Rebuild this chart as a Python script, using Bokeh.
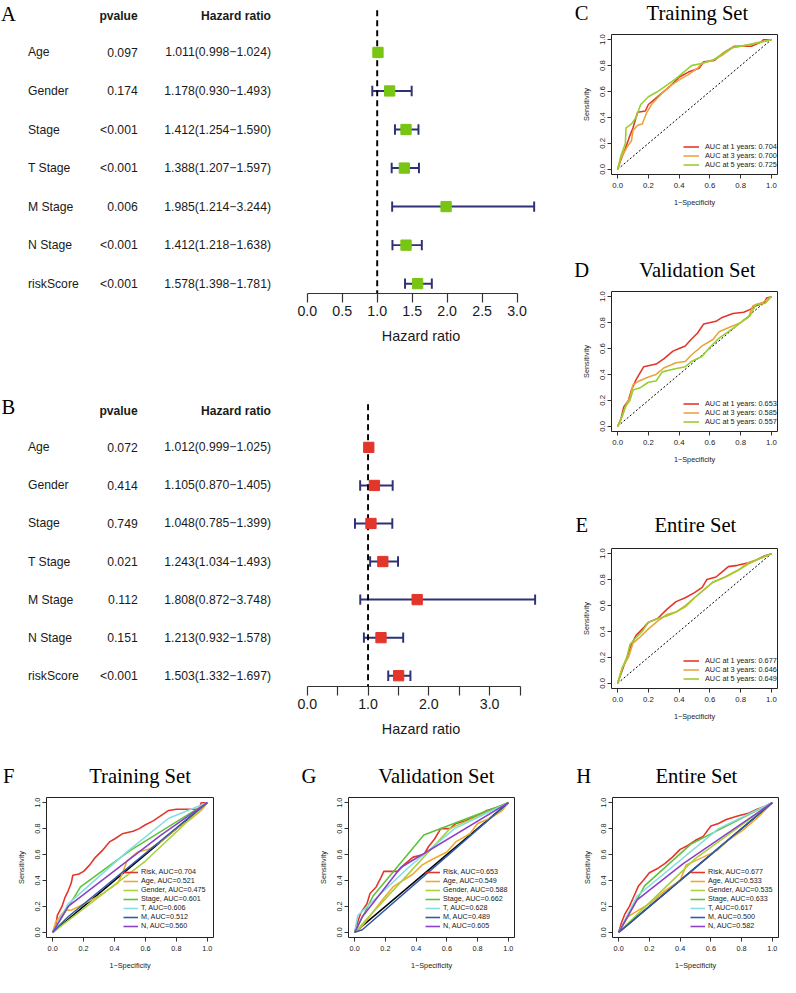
from bokeh.plotting import figure
from bokeh.models import (Range1d, FixedTicker, PrintfTickFormatter, Legend,
                          LegendItem, ColumnDataSource, Div)
from bokeh.layouts import row, column
from bokeh.embed import file_html
from bokeh.resources import INLINE
from bokeh.core.properties import value

S = 0.98


def z(v):
    return int(round(v * S))


def fs(v):
    return f"{v * S:.1f}px"


SANS = "Liberation Sans"
SERIF = "Liberation Serif"

# ---------------- data: Cox regression tables ----------------
variables = ["Age", "Gender", "Stage", "T Stage", "M Stage", "N Stage", "riskScore"]

uni_p = ["0.097", "0.174", "<0.001", "<0.001", "0.006", "<0.001", "<0.001"]
uni_hr = [1.011, 1.178, 1.412, 1.388, 1.985, 1.412, 1.578]
uni_lo = [0.998, 0.930, 1.254, 1.207, 1.214, 1.218, 1.398]
uni_hi = [1.024, 1.493, 1.590, 1.597, 3.244, 1.638, 1.781]

multi_p = ["0.072", "0.414", "0.749", "0.021", "0.112", "0.151", "<0.001"]
multi_hr = [1.012, 1.105, 1.048, 1.243, 1.808, 1.213, 1.503]
multi_lo = [0.999, 0.870, 0.785, 1.034, 0.872, 0.932, 1.332]
multi_hi = [1.025, 1.405, 1.399, 1.493, 3.748, 1.578, 1.697]

uni_ticks = [0.0, 0.5, 1.0, 1.5, 2.0, 2.5, 3.0]
multi_ticks = [0.0, 0.5, 1.0, 1.5, 2.0, 2.5, 3.0, 3.5]
multi_tick_labels = {0.5: "", 1.5: "", 2.5: "", 3.5: ""}

# ---------------- data: time-dependent ROC (C, D, E) ----------------
C_fpr_1 = [0, 0.02, 0.05, 0.08, 0.10, 0.13, 0.18, 0.20, 0.24, 0.28, 0.34, 0.40, 0.46, 0.53, 0.56, 0.63, 0.69, 0.76, 0.87, 0.93, 0.95, 1.0]
C_tpr_1 = [0, 0.07, 0.16, 0.26, 0.32, 0.44, 0.45, 0.50, 0.54, 0.58, 0.64, 0.71, 0.75, 0.78, 0.83, 0.84, 0.90, 0.95, 0.95, 0.98, 1.0, 1.0]
C_fpr_3 = [0, 0.02, 0.06, 0.09, 0.10, 0.13, 0.16, 0.19, 0.22, 0.26, 0.30, 0.35, 0.40, 0.46, 0.52, 0.55, 0.62, 0.68, 0.75, 0.85, 0.92, 1.0]
C_tpr_3 = [0, 0.08, 0.17, 0.22, 0.30, 0.34, 0.35, 0.44, 0.50, 0.55, 0.60, 0.65, 0.69, 0.73, 0.78, 0.82, 0.84, 0.88, 0.94, 0.96, 0.98, 1.0]
C_fpr_5 = [0, 0.02, 0.05, 0.055, 0.09, 0.12, 0.15, 0.20, 0.26, 0.32, 0.38, 0.44, 0.48, 0.56, 0.63, 0.68, 0.75, 0.85, 0.93, 1.0]
C_tpr_5 = [0, 0.10, 0.20, 0.32, 0.35, 0.40, 0.50, 0.56, 0.60, 0.65, 0.70, 0.76, 0.80, 0.82, 0.85, 0.89, 0.94, 0.96, 0.98, 1.0]
C_auc = ["0.704", "0.700", "0.725"]

D_fpr_1 = [0, 0.02, 0.04, 0.07, 0.09, 0.12, 0.17, 0.25, 0.30, 0.36, 0.40, 0.44, 0.47, 0.52, 0.56, 0.64, 0.68, 0.75, 0.82, 0.86, 0.90, 0.95, 0.97, 1.0]
D_tpr_1 = [0, 0.05, 0.15, 0.20, 0.28, 0.36, 0.46, 0.48, 0.52, 0.58, 0.60, 0.62, 0.66, 0.72, 0.79, 0.81, 0.84, 0.87, 0.88, 0.90, 0.93, 0.95, 0.99, 1.0]
D_fpr_3 = [0, 0.03, 0.06, 0.08, 0.10, 0.14, 0.20, 0.25, 0.30, 0.38, 0.44, 0.48, 0.55, 0.62, 0.66, 0.72, 0.80, 0.85, 0.88, 0.95, 1.0]
D_tpr_3 = [0, 0.08, 0.18, 0.22, 0.32, 0.35, 0.38, 0.40, 0.45, 0.49, 0.50, 0.55, 0.62, 0.67, 0.73, 0.76, 0.80, 0.84, 0.93, 0.96, 1.0]
D_fpr_5 = [0, 0.03, 0.05, 0.08, 0.10, 0.15, 0.20, 0.25, 0.29, 0.36, 0.44, 0.48, 0.55, 0.60, 0.66, 0.72, 0.78, 0.82, 0.86, 0.90, 0.96, 1.0]
D_tpr_5 = [0, 0.08, 0.15, 0.20, 0.28, 0.30, 0.34, 0.35, 0.42, 0.44, 0.46, 0.50, 0.54, 0.61, 0.68, 0.73, 0.78, 0.82, 0.85, 0.94, 0.95, 1.0]
D_auc = ["0.653", "0.585", "0.557"]

E_fpr_1 = [0, 0.03, 0.06, 0.09, 0.12, 0.17, 0.20, 0.26, 0.32, 0.38, 0.44, 0.50, 0.55, 0.58, 0.64, 0.68, 0.72, 0.78, 0.85, 0.90, 0.95, 1.0]
E_tpr_1 = [0, 0.10, 0.20, 0.30, 0.37, 0.43, 0.47, 0.50, 0.57, 0.63, 0.66, 0.70, 0.74, 0.80, 0.82, 0.86, 0.90, 0.91, 0.93, 0.95, 0.98, 1.0]
E_fpr_3 = [0, 0.03, 0.07, 0.10, 0.14, 0.20, 0.26, 0.32, 0.38, 0.44, 0.50, 0.56, 0.62, 0.70, 0.78, 0.85, 0.92, 1.0]
E_tpr_3 = [0, 0.12, 0.20, 0.31, 0.35, 0.42, 0.48, 0.53, 0.55, 0.60, 0.66, 0.72, 0.78, 0.82, 0.87, 0.93, 0.96, 1.0]
E_fpr_5 = [0, 0.03, 0.06, 0.08, 0.11, 0.16, 0.20, 0.26, 0.32, 0.38, 0.44, 0.50, 0.56, 0.62, 0.70, 0.78, 0.85, 0.92, 1.0]
E_tpr_5 = [0, 0.12, 0.20, 0.30, 0.34, 0.40, 0.47, 0.50, 0.52, 0.55, 0.59, 0.66, 0.72, 0.78, 0.82, 0.87, 0.92, 0.96, 1.0]
E_auc = ["0.677", "0.646", "0.649"]

# ---------------- data: multi-variable ROC (F, G, H) ----------------
roc_vars = ["Risk", "Age", "Gender", "Stage", "T", "M", "N"]

F_fpr = {
    "Risk": [0, 0.02, 0.03, 0.06, 0.08, 0.10, 0.12, 0.13, 0.17, 0.20, 0.24, 0.27, 0.32, 0.37, 0.40, 0.45, 0.52, 0.56, 0.60, 0.65, 0.70, 0.75, 0.80, 0.95, 0.96, 1.0],
    "Age": [0, 0.02, 0.08, 0.12, 0.17, 0.30, 0.42, 0.45, 0.48, 0.55, 0.62, 0.70, 0.80, 0.90, 0.96, 1.0],
    "Gender": [0, 0.60, 1.0],
    "Stage": [0, 0.18, 0.50, 1.0],
    "T": [0, 0.10, 0.48, 0.75, 1.0],
    "M": [0, 0.10, 1.0],
    "N": [0, 0.10, 0.70, 1.0],
}
F_tpr = {
    "Risk": [0, 0.05, 0.13, 0.20, 0.27, 0.32, 0.38, 0.44, 0.45, 0.47, 0.52, 0.57, 0.63, 0.70, 0.72, 0.76, 0.78, 0.80, 0.83, 0.86, 0.90, 0.94, 0.95, 0.95, 1.0, 1.0],
    "Age": [0, 0.08, 0.17, 0.17, 0.20, 0.28, 0.38, 0.45, 0.55, 0.62, 0.64, 0.70, 0.80, 0.88, 0.94, 1.0],
    "Gender": [0, 0.55, 1.0],
    "Stage": [0, 0.35, 0.63, 1.0],
    "T": [0, 0.22, 0.62, 0.88, 1.0],
    "M": [0, 0.12, 1.0],
    "N": [0, 0.20, 0.75, 1.0],
}
F_auc = ["0.704", "0.521", "0.475", "0.601", "0.606", "0.512", "0.560"]

G_fpr = {
    "Risk": [0, 0.02, 0.04, 0.08, 0.10, 0.14, 0.17, 0.19, 0.28, 0.32, 0.38, 0.45, 0.48, 0.52, 0.56, 0.62, 0.66, 0.72, 0.80, 0.86, 0.92, 0.96, 1.0],
    "Age": [0, 0.05, 0.18, 0.25, 0.38, 0.44, 0.50, 0.60, 0.66, 0.75, 0.80, 0.88, 0.96, 1.0],
    "Gender": [0, 0.62, 1.0],
    "Stage": [0, 0.12, 0.45, 1.0],
    "T": [0, 0.02, 0.35, 0.65, 1.0],
    "M": [0, 0.05, 1.0],
    "N": [0, 0.05, 0.30, 1.0],
}
G_tpr = {
    "Risk": [0, 0.08, 0.15, 0.22, 0.30, 0.35, 0.42, 0.47, 0.47, 0.52, 0.58, 0.60, 0.66, 0.72, 0.80, 0.80, 0.84, 0.86, 0.90, 0.94, 0.96, 0.98, 1.0],
    "Age": [0, 0.05, 0.25, 0.35, 0.45, 0.52, 0.56, 0.62, 0.70, 0.76, 0.84, 0.88, 0.94, 1.0],
    "Gender": [0, 0.80, 1.0],
    "Stage": [0, 0.28, 0.75, 1.0],
    "T": [0, 0.13, 0.50, 0.80, 1.0],
    "M": [0, 0.02, 1.0],
    "N": [0, 0.12, 0.50, 1.0],
}
G_auc = ["0.653", "0.549", "0.588", "0.662", "0.628", "0.489", "0.605"]

H_fpr = {
    "Risk": [0, 0.02, 0.04, 0.07, 0.10, 0.13, 0.16, 0.20, 0.25, 0.30, 0.35, 0.40, 0.45, 0.50, 0.55, 0.60, 0.65, 0.70, 0.78, 0.85, 0.90, 0.95, 1.0],
    "Age": [0, 0.06, 0.10, 0.20, 0.30, 0.40, 0.44, 0.55, 0.64, 0.70, 0.80, 0.90, 1.0],
    "Gender": [0, 0.50, 1.0],
    "Stage": [0, 0.17, 0.47, 1.0],
    "T": [0, 0.12, 0.65, 1.0],
    "M": [0, 1.0],
    "N": [0, 0.12, 0.42, 1.0],
}
H_tpr = {
    "Risk": [0, 0.08, 0.14, 0.20, 0.28, 0.36, 0.40, 0.46, 0.49, 0.53, 0.58, 0.64, 0.67, 0.71, 0.74, 0.82, 0.84, 0.87, 0.90, 0.92, 0.95, 0.97, 1.0],
    "Age": [0, 0.12, 0.15, 0.22, 0.32, 0.40, 0.52, 0.58, 0.63, 0.70, 0.78, 0.88, 1.0],
    "Gender": [0, 0.57, 1.0],
    "Stage": [0, 0.36, 0.68, 1.0],
    "T": [0, 0.28, 0.80, 1.0],
    "M": [0, 1.0],
    "N": [0, 0.25, 0.53, 1.0],
}
H_auc = ["0.677", "0.533", "0.535", "0.633", "0.617", "0.500", "0.582"]

# ---------------- styles ----------------
GREEN_SQ = "#78C514"
RED_SQ = "#E3352A"
NAVY = "#2E3175"
YEAR_COLORS = ["#E4352A", "#E8A43C", "#97CF2E"]
VAR_COLORS = ["#E4352A", "#F0A830", "#A8D23C", "#5EC23A", "#86DCE0", "#2F5BA8", "#8A40C8"]
TXT = "#1a1a1a"


def forest(letter, pvals, hr, lo, hi, sq_color, H, row0, row_h, axis_px, dash_top,
           zero_px, unit_px, ticks, overrides, hdr_px, letter_px):
    idx = list(range(len(variables)))
    y_bot = (axis_px - row0) / row_h
    y_top = -row0 / row_h
    yr = Range1d(y_bot, y_top)
    frame_h = z(axis_px)

    # ---- table part
    t = figure(width=z(300), height=H, x_range=Range1d(0, 300), y_range=yr,
               x_axis_type=None, y_axis_type=None, toolbar_location=None,
               output_backend="svg", title=None, min_border_left=0, min_border_right=0,
               min_border_top=0, min_border_bottom=H - frame_h, outline_line_color=None)
    t.grid.visible = False
    hr_txt = [f"{h:.3f}({a:.3f}\u2212{b:.3f})" for h, a, b in zip(hr, lo, hi)]
    t.text(x=[28] * 7, y=idx, text=variables, text_align="left", text_baseline="middle",
           text_font=value(SANS), text_font_size=fs(12.5), text_color=TXT)
    t.text(x=[140] * 7, y=idx, text=pvals, text_align="right", text_baseline="middle",
           text_font=value(SANS), text_font_size=fs(12.5), text_color=TXT)
    t.text(x=[276] * 7, y=idx, text=hr_txt, text_align="right", text_baseline="middle",
           text_font=value(SANS), text_font_size=fs(12.5), text_color=TXT)
    hy = (hdr_px - row0) / row_h
    t.text(x=[140, 276], y=[hy, hy], text=["pvalue", "Hazard ratio"], text_align="right",
           text_baseline="middle", text_font=value(SANS), text_font_size=fs(12.3),
           text_font_style="bold", text_color=TXT)
    ly = (letter_px - row0) / row_h
    t.text(x=[8], y=[ly], text=[letter], text_align="center", text_baseline="middle",
           text_font=value(SERIF), text_font_size=fs(21), text_color="black")

    # ---- forest part
    W = z(280)
    fw = z(258)
    f = figure(width=W, height=H,
               x_range=Range1d((300 - zero_px) / unit_px, (558 - zero_px) / unit_px),
               y_range=yr, y_axis_type=None, toolbar_location=None, output_backend="svg",
               title=None, min_border_left=0, min_border_right=W - fw, min_border_top=0,
               min_border_bottom=H - frame_h, outline_line_color=None)
    f.grid.visible = False
    cap = 5.3 / row_h
    src = ColumnDataSource(dict(y=idx, hr=hr, lo=lo, hi=hi,
                                ya=[i - cap for i in idx], yb=[i + cap for i in idx]))
    f.segment(x0="lo", y0="y", x1="hi", y1="y", source=src, line_color=NAVY, line_width=2 * S)
    f.segment(x0="lo", y0="ya", x1="lo", y1="yb", source=src, line_color=NAVY, line_width=2 * S)
    f.segment(x0="hi", y0="ya", x1="hi", y1="yb", source=src, line_color=NAVY, line_width=2 * S)
    f.segment(x0=[1.0], y0=[(dash_top - row0) / row_h], x1=[1.0], y1=[y_bot],
              line_color="black", line_width=2 * S, line_dash="6 4")
    f.scatter(x="hr", y="y", source=src, marker="square", size=10.5 * S,
              fill_color=sq_color, line_color=sq_color)
    ax = f.xaxis[0]
    ax.ticker = FixedTicker(ticks=ticks)
    ax.formatter = PrintfTickFormatter(format="%.1f")
    if overrides:
        ax.major_label_overrides = overrides
    ax.bounds = (ticks[0], ticks[-1])
    ax.axis_line_color = "#333333"
    ax.axis_line_width = 1.2
    ax.major_tick_line_color = "#333333"
    ax.major_tick_line_width = 1.2
    ax.major_tick_in = 0
    ax.major_tick_out = z(9)
    ax.minor_tick_line_color = None
    ax.major_label_text_font = SANS
    ax.major_label_text_font_size = fs(14.5)
    ax.major_label_text_color = TXT
    ax.major_label_standoff = z(3)
    ax.axis_label = "Hazard ratio"
    ax.axis_label_text_font = SANS
    ax.axis_label_text_font_style = "normal"
    ax.axis_label_text_font_size = fs(14.7)
    ax.axis_label_text_color = TXT
    ax.axis_label_standoff = z(9)
    return row(t, f)


HEAD = 26  # height of the header strip holding panel letter + title (reference px)


def header(letter, title, W, Hh, letter_xy, title_xy):
    span = ("position:absolute;left:{x:.1f}px;top:{y:.1f}px;transform:translate(-50%,-50%);"
            "white-space:nowrap;line-height:1;")
    html = (f'<div style="position:relative;width:{W}px;height:{Hh}px;'
            f"font-family:'Liberation Serif',serif;font-size:{21 * S:.1f}px;color:black;\">"
            f'<span style="{span.format(x=letter_xy[0] * S, y=letter_xy[1] * S)}">{letter}</span>'
            f'<span style="{span.format(x=title_xy[0] * S, y=title_xy[1] * S)}">{title}</span>'
            "</div>")
    return Div(text=html, width=W, height=Hh, margin=0)


def roc(letter, title, fprs, tprs, colors, labels, W, H, box, letter_xy, title_xy,
        leg_xy, leg_row, glyph_w, standoff, tick_fs, lab_fs, leg_fs, diag_dash, diag_w):
    bl, br, bt, bb = box
    Hh = z(HEAD)
    Hp = H - Hh
    h = header(letter, title, W, Hh, letter_xy, title_xy)

    mbl = z(bl)
    fw = z(br - bl)
    mbt = z(bt) - Hh
    fh = z(bb - bt)
    p = figure(width=W, height=Hp, x_range=Range1d(-0.04, 1.04), y_range=Range1d(-0.04, 1.04),
               min_border_left=mbl, min_border_right=W - mbl - fw, min_border_top=mbt,
               min_border_bottom=Hp - mbt - fh, toolbar_location=None, output_backend="svg",
               title=None, outline_line_color="#222222", outline_line_width=1)
    p.grid.visible = False
    p.line(x=[0, 1], y=[0, 1], line_color="black", line_width=diag_w,
           line_dash=diag_dash if diag_dash else "solid")
    items = []
    for xs, ys, c, lab in zip(fprs, tprs, colors, labels):
        r = p.line(x=xs, y=ys, line_color=c, line_width=1.6 * S)
        items.append(LegendItem(label=lab, renderers=[r]))
    rh = int(round(leg_row * S))
    lg = Legend(items=items, location=(z(leg_xy[0]), z(leg_xy[1])), glyph_width=z(glyph_w),
                glyph_height=rh, label_height=rh, spacing=0,
                padding=0, margin=0, label_standoff=z(standoff), label_text_font=SANS,
                label_text_font_size=fs(leg_fs), label_text_color=TXT, border_line_color=None,
                background_fill_alpha=0)
    p.add_layout(lg)
    for ax in (p.xaxis[0], p.yaxis[0]):
        ax.ticker = FixedTicker(ticks=[0.0, 0.2, 0.4, 0.6, 0.8, 1.0])
        ax.formatter = PrintfTickFormatter(format="%.1f")
        ax.axis_line_color = None
        ax.major_tick_in = 0
        ax.major_tick_out = z(4)
        ax.major_tick_line_color = "#333333"
        ax.minor_tick_line_color = None
        ax.major_label_text_font = SANS
        ax.major_label_text_font_size = fs(tick_fs)
        ax.major_label_text_color = TXT
        ax.axis_label_text_font = SANS
        ax.axis_label_text_font_style = "normal"
        ax.axis_label_text_font_size = fs(lab_fs)
        ax.axis_label_text_color = TXT
    p.xaxis.axis_label = "1\u2212Specificity"
    p.yaxis.axis_label = "Sensitivity"
    p.yaxis.major_label_orientation = "vertical"
    p.xaxis.major_label_standoff = z(4)
    p.xaxis.axis_label_standoff = z(7)
    p.yaxis.major_label_standoff = z(2)
    p.yaxis.axis_label_standoff = z(7)
    return column(h, p)


pA = forest("A", uni_p, uni_hr, uni_lo, uni_hi, GREEN_SQ, 392, 53, 39.33, 299, 10,
            313, 71.33, uni_ticks, None, 16, 14)
pB = forest("B", multi_p, multi_hr, multi_lo, multi_hi, RED_SQ, 372, 56, 38.83, 300, 12,
            313, 62.0, multi_ticks, multi_tick_labels, 19, 15)

year_labels = lambda aucs: [f"AUC at {y} years: {a}" for y, a in zip([1, 3, 5], aucs)]
cde_box = (44, 213.3, 35, 178)
pC = roc("C", "Training Set", [C_fpr_1, C_fpr_3, C_fpr_5], [C_tpr_1, C_tpr_3, C_tpr_5],
         YEAR_COLORS, year_labels(C_auc), 212, 257, cde_box, (14, 13), (132, 13),
         (73, 5), 9, 16, 6, 8, 7.5, 7.5, "2 2", 1)
pD = roc("D", "Validation Set", [D_fpr_1, D_fpr_3, D_fpr_5], [D_tpr_1, D_tpr_3, D_tpr_5],
         YEAR_COLORS, year_labels(D_auc), 212, 257, cde_box, (14, 13), (132, 13),
         (73, 5), 9, 16, 6, 8, 7.5, 7.5, "2 2", 1)
pE = roc("E", "Entire Set", [E_fpr_1, E_fpr_3, E_fpr_5], [E_tpr_1, E_tpr_3, E_tpr_5],
         YEAR_COLORS, year_labels(E_auc), 212, 250, (44, 213.3, 34.7, 177.3), (14, 11), (130, 11),
         (73, 5), 9, 16, 6, 8, 7.5, 7.5, "2 2", 1)

var_labels = lambda aucs: [f"{v}, AUC={a}" for v, a in zip(roc_vars, aucs)]
fgh_leg = dict(leg_row=8.5, glyph_w=15, standoff=3, tick_fs=7.5, lab_fs=7.5, leg_fs=7.3,
               diag_dash=None, diag_w=1.5)
pF = roc("F", "Training Set", [F_fpr[v] for v in roc_vars], [F_tpr[v] for v in roc_vars],
         VAR_COLORS, var_labels(F_auc), 260, 209, (46.7, 217.3, 33.7, 176.3), (9, 12), (143, 12),
         (78.3, 7), **fgh_leg)
pG = roc("G", "Validation Set", [G_fpr[v] for v in roc_vars], [G_tpr[v] for v in roc_vars],
         VAR_COLORS, var_labels(G_auc), 260, 209, (89.7, 259.3, 33.7, 176.3), (50, 12), (180, 12),
         (78.3, 7), **fgh_leg)
pH = roc("H", "Entire Set", [H_fpr[v] for v in roc_vars], [H_tpr[v] for v in roc_vars],
         VAR_COLORS, var_labels(H_auc), 260, 209, (93.7, 263.3, 33.7, 176.3), (65, 12), (180, 12),
         (79.3, 7), **fgh_leg)

layout = column(row(column(pA, pB), column(pC, pD, pE)), row(pF, pG, pH))

open("out.html", "w").write(file_html(layout, INLINE))
